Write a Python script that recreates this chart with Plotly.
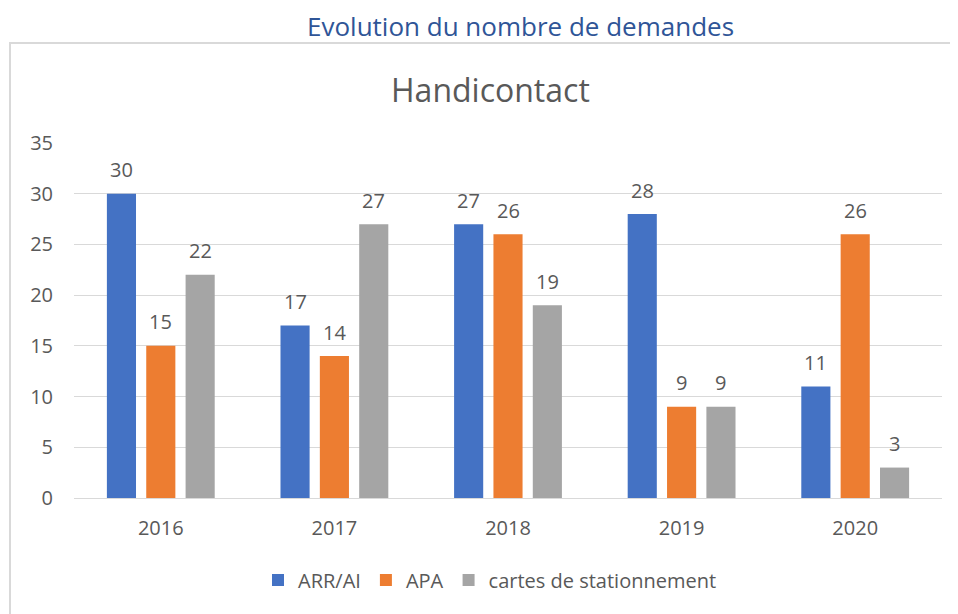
import plotly.graph_objects as go

years = ["2016", "2017", "2018", "2019", "2020"]
arr_ai = [30, 17, 27, 28, 11]
apa = [15, 14, 26, 9, 26]
cartes = [22, 27, 19, 9, 3]
series_names = ["ARR/AI", "APA", "cartes de stationnement"]
colors = ["#4472C4", "#ED7D31", "#A5A5A5"]

FONT = "Open Sans"
GRAY = "#595959"
BARGAP = 0.32
BARGROUPGAP = 0.26

# page offset (body margin) compensation
OFF = 8
W, H = 958, 614
L, R, T, B = 74 - OFF, 24, 143 - OFF, 124
pw = W - L - R
ph = H - T - B

def px(x):
    return (x - OFF - L) / pw

def py(y):
    return (H - B - (y - OFF)) / ph

fig = go.Figure()
all_vals = [arr_ai, apa, cartes]
for name, vals, col in zip(series_names, all_vals, colors):
    fig.add_trace(go.Bar(
        x=years, y=vals, name=name,
        marker=dict(color=col, line=dict(width=0)),
    ))

slot = (1 - BARGAP) / len(series_names)
annotations = []
for j, vals in enumerate(all_vals):
    for i, v in enumerate(vals):
        annotations.append(dict(
            x=i + (j - 1) * slot, y=v, xref="x", yref="y", text=str(v),
            showarrow=False, xanchor="center", yanchor="middle", yshift=24,
            font=dict(family=FONT, size=20, color=GRAY)))

annotations += [
    dict(text="Evolution du nombre de demandes", x=px(520), y=py(26), xref="paper", yref="paper",
         xanchor="center", yanchor="middle", showarrow=False, borderpad=0,
         font=dict(family=FONT, size=26, color="#2F5597")),
    dict(text="Handicontact", x=px(490), y=py(89), xref="paper", yref="paper",
         xanchor="center", yanchor="middle", showarrow=False,
         font=dict(family=FONT, size=32, color=GRAY)),
]

fig.update_layout(
    width=W, height=H,
    margin=dict(l=L, r=R, t=T, b=B),
    paper_bgcolor="white", plot_bgcolor="white",
    barmode="group", bargap=BARGAP, bargroupgap=BARGROUPGAP,
    font=dict(family=FONT, color=GRAY, size=20),
    showlegend=True,
    legend=dict(orientation="h", x=px(490), xanchor="center", y=py(580), yanchor="middle",
                font=dict(family=FONT, size=20, color=GRAY), itemwidth=30, traceorder="normal"),
    xaxis=dict(showgrid=False, showline=False, ticks="", zeroline=False,
               tickfont=dict(family=FONT, size=20, color=GRAY), ticklabelstandoff=16),
    yaxis=dict(range=[0, 35], dtick=5, showgrid=True, gridcolor="#D9D9D9", gridwidth=1.3,
               zeroline=True, zerolinecolor="#D9D9D9", zerolinewidth=1.3,
               showline=False, ticks="", tickfont=dict(family=FONT, size=20, color=GRAY),
               ticklabelstandoff=20),
    annotations=annotations,
    shapes=[
        dict(type="rect", xref="paper", yref="paper",
             x0=px(10), x1=px(980), y0=py(640), y1=py(43),
             line=dict(color="#D9D9D9", width=2), fillcolor="rgba(0,0,0,0)", layer="below"),
    ],
)

fig.write_html("out.html")
